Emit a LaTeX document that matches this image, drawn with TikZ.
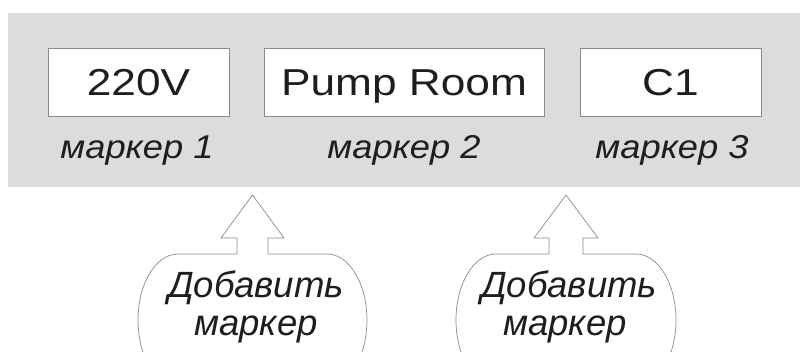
\documentclass[tikz,border=0pt]{standalone}
\usepackage{fontspec}
\setmainfont{Liberation Sans}
\newfontfamily\markfont[FakeStretch=1.18]{Liberation Sans}
\newfontfamily\labelfont[FakeStretch=1.1]{Liberation Sans}
\usetikzlibrary{positioning, calc}
\definecolor{panelgray}{HTML}{DCDCDC}
\definecolor{edgegray}{HTML}{8A8A8A}
\definecolor{inkgray}{HTML}{1E1E1E}

\begin{document}
\begin{tikzpicture}[x=1pt, y=1pt,
    markbox/.style={rectangle, draw=edgegray, line width=0.8pt, fill=white, minimum height=68pt, inner sep=0pt, text height=27pt, text depth=0pt, text=inkgray, font=\markfont\fontsize{37.5}{40}\selectfont},
    marklabel/.style={anchor=base, text=inkgray, font=\labelfont\itshape\fontsize{33}{36}\selectfont},
    callout/.style={draw=edgegray, line width=0.7pt, fill=white},
    addtext/.style={anchor=base, text=inkgray, inner sep=0pt, font=\itshape\fontsize{36.5}{38}\selectfont},
]
\useasboundingbox (0,0) rectangle (800,351);
\clip (0,0) rectangle (800,351);
\fill[panelgray] (8,164) rectangle (800,338);

\node[markbox, minimum width=181pt] (mark1) at (138.5,269) {220V};
\node[markbox, minimum width=280pt] (mark2) at (404,269) {Pump Room};
\node[markbox, minimum width=181pt] (mark3) at (670.5,269) {C1};

\node[marklabel] (lbl1) at (137,192) {маркер 1};
\node[marklabel] (lbl2) at (404,192) {маркер 2};
\node[marklabel] (lbl3) at (672,192) {маркер 3};

% block arrow + rounded balloon
\draw[callout, xshift=252.5pt] (-15.5,97) -- (-15.5,113) -- (-31.5,113) -- (0,156) -- (31.5,113) -- (15.5,113) -- (15.5,97) -- (74.5,97)
    arc[start angle=90, end angle=-90, x radius=40, y radius=66] -- (-74.5,-35)
    arc[start angle=270, end angle=90, x radius=40, y radius=66] -- cycle;
\draw[callout, xshift=566pt] (-17,97) -- (-17,113) -- (-32,113) -- (0,156) -- (32,113) -- (17,113) -- (17,97) -- (70,97)
    arc[start angle=90, end angle=-90, x radius=40, y radius=66] -- (-70,-35)
    arc[start angle=270, end angle=90, x radius=40, y radius=66] -- cycle;

\node[addtext] (add1a) at (256,54) {Добавить};
\node[addtext] (add1b) at (256,16) {маркер};
\node[addtext] (add2a) at (569,54) {Добавить};
\node[addtext] (add2b) at (565,16) {маркер};
\end{tikzpicture}
\end{document}
